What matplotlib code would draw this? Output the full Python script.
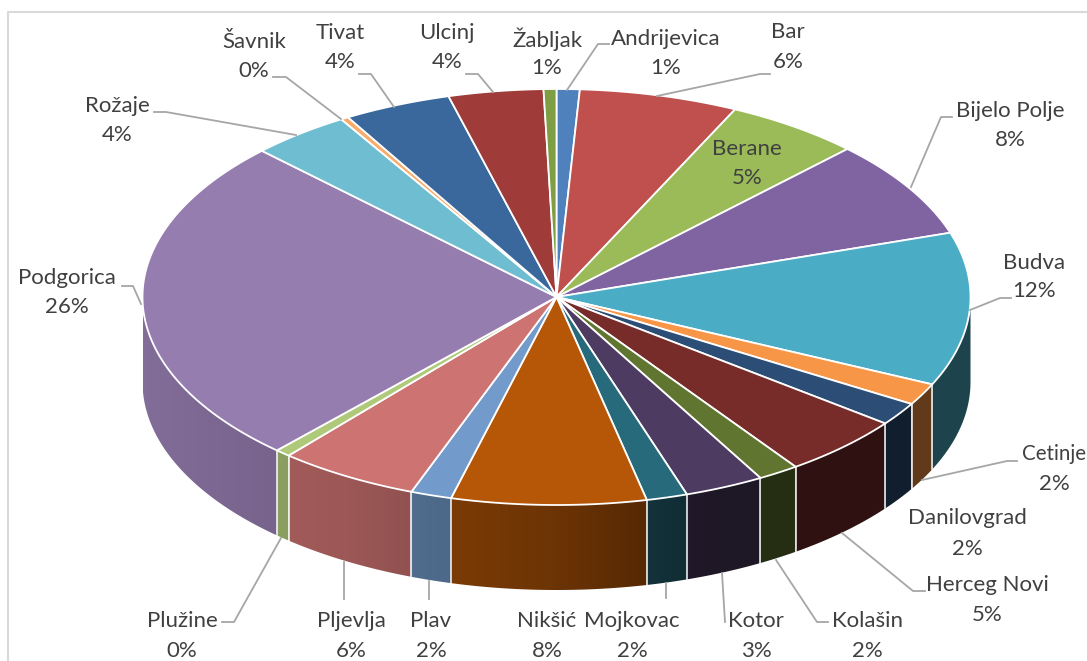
import numpy as np
import matplotlib
matplotlib.use("Agg")
import matplotlib.pyplot as plt
from matplotlib.patches import Polygon

plt.rcParams['font.family'] = ['Lato', 'DejaVu Sans']

# data, clockwise from the top of the pie
towns = ["Andrijevica", "Bar", "Berane", "Bijelo Polje", "Budva", "Cetinje", "Danilovgrad",
         "Herceg Novi", "Kolašin", "Kotor", "Mojkovac", "Nikšić", "Plav", "Pljevlja",
         "Plužine", "Podgorica", "Rožaje", "Šavnik", "Tivat", "Ulcinj", "Žabljak"]
shares = [0.9, 6.2, 5.3, 7.6, 11.9, 1.7, 1.8, 4.8, 1.6, 3.1, 1.6, 7.6, 1.6, 5.5,
          0.6, 25.6, 3.9, 0.3, 4.2, 3.7, 0.5]
percent_labels = ["1%", "6%", "5%", "8%", "12%", "2%", "2%", "5%", "2%", "3%", "2%", "8%",
                  "2%", "6%", "0%", "26%", "4%", "0%", "4%", "4%", "1%"]
colors = ["#4F81BD", "#C0504D", "#9BBB59", "#8064A2", "#4BACC6", "#F79646", "#2C4D75",
          "#772C2A", "#5F7530", "#4D3B62", "#276A7C", "#B65708", "#729ACA", "#CD7371",
          "#AFC97A", "#967DB0", "#6FBDD1", "#F9AB6B", "#3A679C", "#9F3B38", "#7F9D43"]

# label centre x, name y, percent y
label_pos = {
    "Andrijevica": (666, 38, 67), "Bar": (788, 31, 61), "Berane": (747, 148, 177),
    "Bijelo Polje": (1010, 110, 139), "Budva": (1034, 262, 290), "Cetinje": (1054, 453, 483),
    "Danilovgrad": (967, 517, 548), "Herceg Novi": (987, 584, 614), "Kolašin": (867, 620, 650),
    "Kotor": (756, 620, 650), "Mojkovac": (632, 620, 650), "Nikšić": (547, 620, 650),
    "Plav": (431, 620, 650), "Pljevlja": (351, 620, 650), "Plužine": (182, 620, 650),
    "Podgorica": (67, 277, 306), "Rožaje": (117, 105, 134), "Šavnik": (254, 41, 70),
    "Tivat": (340, 32, 61), "Ulcinj": (447, 32, 61), "Žabljak": (547, 38, 67)}

leaders = [
    [(567, 90), (598, 44), (609, 44)], [(657, 96), (760, 74), (770, 74)],
    [(911, 187), (941, 117), (952, 117)], [(970, 310), (1000, 298), (1011, 298)],
    [(922, 480), (1007, 461), (1017, 461)], [(842, 533), (913, 591), (925, 591)],
    [(776, 560), (817, 622), (828, 622)], [(722, 573), (725, 622)],
    [(666, 583), (666, 598)], [(429, 581), (429, 599)], [(344, 562), (344, 599)],
    [(281, 538), (234, 622), (222, 622)], [(141, 304), (133, 286), (122, 286)],
    [(296, 135), (166, 112), (154, 112)], [(341, 119), (286, 77), (273, 77)],
    [(394, 107), (371, 74), (359, 74)], [(493, 92), (478, 74), (466, 74)]]

cx, cy = 556.5, 297
rx, ry = 414, 208
depth = 85

# how dark the wall gets going left to right
shade_x = [142, 280, 350, 430, 550, 665, 720, 970]
shade_f = [0.87, 0.79, 0.76, 0.69, 0.60, 0.45, 0.39, 0.39]


def rim(t):
    t = np.radians(t)
    return cx + rx * np.sin(t), cy - ry * np.cos(t)


fig = plt.figure(figsize=(10.87, 6.61), dpi=100)
ax = fig.add_axes([0, 0, 1, 1])

# chart frame, runs off the right and bottom of the picture
ax.plot([8, 8, 1087], [661, 12, 12], color="#D9D9D9", lw=1.5, zorder=0)

edges = np.cumsum([0] + shares) * 360.0 / sum(shares)

# walls, one horizontal gradient per slice clipped to its outline
for i in range(len(towns)):
    a = max(edges[i], 90)
    b = min(edges[i + 1], 270)
    if b <= a:
        continue
    steps = np.linspace(a, b, int((b - a) / 0.5) + 2)
    xs, ys = rim(steps)
    pts = list(zip(xs, ys)) + list(zip(xs[::-1], ys[::-1] + depth))
    wall = Polygon(pts, closed=True, facecolor="none", edgecolor="none", zorder=1)
    ax.add_patch(wall)
    x_lo, x_hi = xs.min(), xs.max()
    grad_x = np.linspace(x_lo, x_hi, max(int(x_hi - x_lo), 2))
    rgb = np.array(matplotlib.colors.to_rgb(colors[i]))
    strip = np.outer(np.interp(grad_x, shade_x, shade_f), rgb)[np.newaxis, :, :]
    img = ax.imshow(strip, extent=(x_lo, x_hi, ys.max() + depth + 1, ys.min() - 1), aspect="auto",
                    interpolation="bilinear", zorder=2)
    img.set_clip_path(wall)
for e in edges:
    if 90 < e < 270:
        x0, y0 = rim(e)
        ax.plot([x0, x0], [y0, y0 + depth], color="white", lw=1.2, alpha=0.9, zorder=3)

# top face
for i in range(len(towns)):
    steps = np.linspace(edges[i], edges[i + 1], max(int(shares[i] * 6), 3))
    xs, ys = rim(steps)
    pts = [(cx, cy)] + list(zip(xs, ys))
    ax.add_patch(Polygon(pts, closed=True, facecolor=colors[i], edgecolor="white", lw=1.3,
                         joinstyle="round", zorder=4))

for line in leaders:
    ax.plot([p[0] for p in line], [p[1] for p in line], color="#A6A6A6", lw=1.3, zorder=5)

for town, pct in zip(towns, percent_labels):
    x, y0, y1 = label_pos[town]
    # Cetinje sits hard against the right edge
    size = 14.8 if town == "Cetinje" else 16
    ax.text(x, y0 + 1, town, ha="center", va="center", fontsize=size, color="#404040", zorder=6)
    ax.text(x, y1 + 1, pct, ha="center", va="center", fontsize=16, color="#404040", zorder=6)

ax.set_xlim(0, 1087)
ax.set_ylim(661, 0)
ax.axis("off")

fig.savefig("out.png", dpi=100)
